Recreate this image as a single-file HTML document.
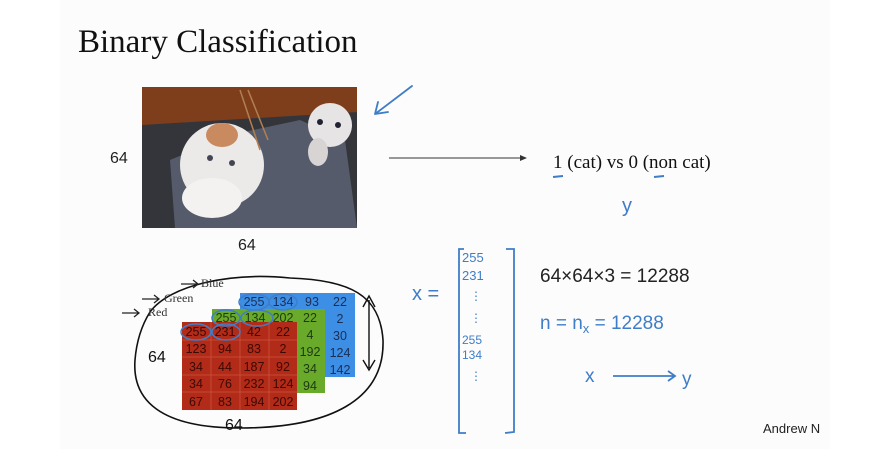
<!DOCTYPE html>
<html><head><meta charset="utf-8"><style>
html,body{margin:0;padding:0;background:#fff;}
svg{display:block;}
</style></head><body>
<svg width="884" height="449" viewBox="0 0 884 449" xmlns="http://www.w3.org/2000/svg">
<rect width="884" height="449" fill="#fff"/>
<rect x="60" y="0" width="770" height="449" fill="#fcfcfc"/>
<text x="78" y="52" font-family="Liberation Serif, serif" font-size="33" fill="#111">Binary Classification</text>

<!-- photo -->
<rect x="142" y="87" width="215" height="141" fill="#34353a"/>
<path d="M142 125 L357 112 L357 87 L142 87Z" fill="#7e3e1c"/>
<path d="M175 228 L170 160 L230 135 L300 120 L345 140 L357 228Z" fill="#555b6a"/>
<ellipse cx="222" cy="165" rx="42" ry="42" fill="#eceae8"/>
<ellipse cx="212" cy="198" rx="30" ry="20" fill="#f4f2f0"/>
<ellipse cx="222" cy="135" rx="16" ry="12" fill="#c98a60"/>
<ellipse cx="330" cy="125" rx="22" ry="22" fill="#e6e4e4"/>
<ellipse cx="318" cy="152" rx="10" ry="14" fill="#d8d4d4"/>
<circle cx="210" cy="158" r="3" fill="#445"/><circle cx="232" cy="163" r="3" fill="#445"/>
<circle cx="320" cy="122" r="3" fill="#223"/><circle cx="338" cy="125" r="3" fill="#223"/>
<path d="M240 90 L260 150 M248 90 L268 140" stroke="#b08050" stroke-width="1.5"/>
<path d="M375 114 L412 86 M375 114 L378 102 M375 114 L388 112" stroke="#3f7dc8" stroke-width="1.8" fill="none" stroke-linecap="round"/>
<text x="110" y="163" font-family="Liberation Sans, sans-serif" font-size="16" fill="#222">64</text>
<text x="238" y="250" font-family="Liberation Sans, sans-serif" font-size="16" fill="#222">64</text>

<line x1="389" y1="158" x2="520" y2="158" stroke="#333" stroke-width="1"/>
<path d="M520 155 L527 158 L520 161Z" fill="#333"/>
<text x="553" y="168" font-family="Liberation Serif, serif" font-size="19" fill="#111">1 (cat) vs 0 (non cat)</text>
<path d="M553 177 L563 176 M654 177 L664 176" stroke="#3f7dc8" stroke-width="2"/>
<text x="622" y="212" font-family="Liberation Sans, sans-serif" font-size="20" fill="#3f7dc8">y</text>

<!-- grids -->
<g font-family="Liberation Sans, sans-serif" font-size="12.5" text-anchor="middle">
<rect x="240" y="293" width="115" height="84" fill="#3d8fe6"/>
<g fill="#1a2e55">
<text x="254" y="306">255</text><text x="283" y="306">134</text><text x="312" y="306">93</text><text x="340" y="306">22</text>
<text x="340" y="323">2</text><text x="340" y="340">30</text><text x="340" y="357">124</text><text x="340" y="374">142</text></g>
<rect x="212" y="309" width="113" height="84" fill="#6aaa2a"/>
<g fill="#1c3a10">
<text x="226" y="322">255</text><text x="255" y="322">134</text><text x="283" y="322">202</text><text x="310" y="322">22</text>
<text x="310" y="339">4</text><text x="310" y="356">192</text><text x="310" y="373">34</text><text x="310" y="390">94</text></g>
<rect x="182" y="322" width="115" height="88" fill="#b22a18"/>
<g stroke="#c8553e" stroke-width="0.8">
<line x1="211" y1="322" x2="211" y2="410"/><line x1="240" y1="322" x2="240" y2="410"/><line x1="269" y1="322" x2="269" y2="410"/>
<line x1="182" y1="340" x2="297" y2="340"/><line x1="182" y1="357" x2="297" y2="357"/><line x1="182" y1="375" x2="297" y2="375"/><line x1="182" y1="392" x2="297" y2="392"/></g>
<g fill="#3a0a05">
<text x="196" y="336">255</text><text x="225" y="336">231</text><text x="254" y="336">42</text><text x="283" y="336">22</text>
<text x="196" y="353">123</text><text x="225" y="353">94</text><text x="254" y="353">83</text><text x="283" y="353">2</text>
<text x="196" y="371">34</text><text x="225" y="371">44</text><text x="254" y="371">187</text><text x="283" y="371">92</text>
<text x="196" y="388">34</text><text x="225" y="388">76</text><text x="254" y="388">232</text><text x="283" y="388">124</text>
<text x="196" y="406">67</text><text x="225" y="406">83</text><text x="254" y="406">194</text><text x="283" y="406">202</text></g>
</g>
<g fill="none" stroke="#3f7dc8" stroke-width="1.5">
<ellipse cx="254" cy="302" rx="15" ry="8"/><ellipse cx="283" cy="302" rx="14" ry="8"/>
<ellipse cx="226" cy="318" rx="14" ry="8"/><ellipse cx="257" cy="318" rx="16" ry="8"/>
<ellipse cx="196" cy="332" rx="15" ry="8"/><ellipse cx="226" cy="332" rx="14" ry="8"/>
</g>
<path d="M150 312 C170 285 230 272 290 278 C350 280 380 295 383 340 C385 400 330 428 240 428 C160 428 132 400 135 360 C137 335 145 320 150 312Z" fill="none" stroke="#111" stroke-width="1.6"/>
<path d="M369 300 L369 368 M363 307 L369 296 L375 307 M363 360 L369 370 L375 360" stroke="#111" stroke-width="1.4" fill="none"/>
<text x="148" y="362" font-family="Liberation Sans, sans-serif" font-size="16" fill="#111">64</text>
<text x="225" y="430" font-family="Liberation Sans, sans-serif" font-size="16" fill="#111">64</text>
<g font-family="Liberation Serif, serif" font-size="12" fill="#333">
<text x="201" y="287">Blue</text><text x="164" y="302">Green</text><text x="148" y="316">Red</text></g>
<g stroke="#222" stroke-width="1.3" fill="none">
<path d="M181 284 L198 284 M193 280 L198 284 L193 288"/>
<path d="M142 299 L159 299 M154 295 L159 299 L154 303"/>
<path d="M122 313 L139 313 M134 309 L139 313 L134 317"/>
</g>

<!-- vector -->
<g font-family="Liberation Sans, sans-serif" fill="#3f7dc8">
<text x="412" y="300" font-size="20">x =</text>
<text x="462" y="262" font-size="13">255</text><text x="462" y="280" font-size="13">231</text>
<text x="470" y="300" font-size="12">⋮</text><text x="470" y="322" font-size="12">⋮</text>
<text x="462" y="344" font-size="12">255</text><text x="462" y="359" font-size="12">134</text>
<text x="470" y="380" font-size="12">⋮</text>
<text x="540" y="282" font-size="19" fill="#222">64×64×3 = 12288</text>
<text x="540" y="329" font-size="19">n = n<tspan font-size="13" dy="4">x</tspan><tspan dy="-4"> = 12288</tspan></text>
<text x="585" y="382" font-size="19">x</text>
<text x="682" y="385" font-size="19">y</text>
</g>
<path d="M464 249 L459 249 L459 433 L466 433 M506 249 L514 249 L514 432 L505 433" stroke="#3f7dc8" stroke-width="1.8" fill="none"/>
<path d="M613 376 L674 376 M668 371 L675 376 L668 381" stroke="#3f7dc8" stroke-width="1.8" fill="none"/>
<text x="763" y="433" font-family="Liberation Sans, sans-serif" font-size="13" fill="#222">Andrew N</text>
</svg>
</body></html>
